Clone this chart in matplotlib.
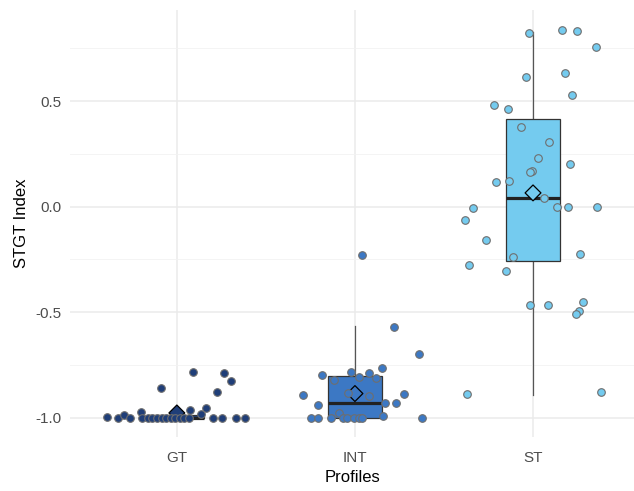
import numpy as np
import matplotlib.pyplot as plt

plt.rcParams['font.family'] = ['Liberation Sans', 'DejaVu Sans']

# Data
profiles = ["GT", "INT", "ST"]
colors = ["#1F3E78", "#3C78C4", "#74CBEF"]

gt_jit = [-0.393, -0.331, -0.298, -0.264, -0.202, -0.197, -0.163, -0.140, -0.112, -0.084,
          -0.062, -0.034, -0.011, 0.017, 0.039, 0.067, -0.090, 0.073, 0.090, 0.135,
          0.163, 0.225, 0.264, 0.303, 0.202, 0.253, 0.331, 0.382]
gt_val = [-0.995, -1.0, -0.99, -1.0, -0.975, -1.0, -1.0, -1.0, -1.0, -1.0,
          -1.0, -1.0, -1.0, -1.0, -1.0, -1.0, -0.86, -0.965, -0.785, -0.985,
          -0.955, -0.88, -0.79, -0.825, -1.0, -1.0, -1.0, -1.0]

int_jit = [0.038, 0.219, 0.360, 0.152, -0.022, -0.185, 0.022, 0.079, 0.118, -0.118,
           -0.039, -0.292, 0.079, 0.275, -0.208, 0.171, 0.230, -0.087, -0.247, -0.208,
           -0.135, -0.067, -0.045, -0.006, 0.022, 0.042, 0.157, 0.376]
int_val = [-0.227, -0.569, -0.697, -0.763, -0.782, -0.796, -0.806, -0.787, -0.810, -0.820,
           -0.882, -0.891, -0.900, -0.886, -0.938, -0.929, -0.929, -0.976, -1.0, -1.0,
           -1.0, -1.0, -1.0, -1.0, -1.0, -1.0, -0.991, -1.0]

st_jit = [-0.022, 0.163, 0.247, 0.354, -0.039, 0.180, 0.219, -0.219, -0.140, -0.067,
          0.090, 0.028, 0.208, -0.006, -0.017, -0.208, -0.135, 0.062, -0.337, 0.135,
          0.197, 0.360, -0.382, -0.264, -0.112, 0.264, -0.360, -0.152, -0.017, 0.084,
          0.281, 0.258, 0.242, -0.371, 0.382]
st_val = [0.825, 0.839, 0.833, 0.757, 0.616, 0.634, 0.531, 0.483, 0.462, 0.376,
          0.308, 0.232, 0.200, 0.171, 0.164, 0.117, 0.122, 0.041, -0.005, 0.0,
          0.0, 0.0, -0.062, -0.156, -0.239, -0.223, -0.275, -0.307, -0.466, -0.466,
          -0.450, -0.496, -0.507, -0.889, -0.878]

# box summary (q1, median, q3, whisker low, whisker high, mean)
q1 = [-1.0, -1.0, -0.259]
med = [-1.0, -0.929, 0.039]
q3 = [-0.99, -0.804, 0.417]
wlo = [-1.0, -1.0, -0.891]
whi = [-0.99, -0.567, 0.826]
means = [-0.978, -0.886, 0.065]

jits = [gt_jit, int_jit, st_jit]
vals = [gt_val, int_val, st_val]

fig = plt.figure(figsize=(6.34, 4.91), dpi=100)
ax = fig.add_axes([70/634, 54/491, 564/634, 427/491])

stats = []
for i in range(3):
    stats.append(dict(q1=q1[i], med=med[i], q3=q3[i], whislo=wlo[i], whishi=whi[i],
                      mean=means[i], fliers=[]))
pos = np.arange(1, 4)
bp = ax.bxp(stats, positions=pos, widths=0.3, patch_artist=True, showcaps=False,
            showfliers=False, showmeans=False,
            boxprops=dict(edgecolor="#333333", linewidth=0.9),
            whiskerprops=dict(color="#555555", linewidth=0.9),
            medianprops=dict(color="#222222", linewidth=2.3, solid_capstyle="butt"))
for patch, c in zip(bp["boxes"], colors):
    patch.set_facecolor(c)
    patch.set_zorder(2)
for w in bp["whiskers"]:
    w.set_zorder(1.5)
for m in bp["medians"]:
    m.set_zorder(2.1)

# means as diamonds
ax.scatter(pos, means, marker="D", s=65, c=colors, edgecolors="black", linewidths=0.9, zorder=3)

# jittered points
for i in range(3):
    x = pos[i] + np.array(jits[i])
    ax.scatter(x, vals[i], s=30, c=colors[i], edgecolors="#6E6E6E", linewidths=0.8, zorder=4)

ax.set_xlim(0.4, 3.567)
ax.set_ylim(-1.092, 0.932)
ax.set_xticks(pos)
ax.set_xticklabels(profiles)
ax.set_yticks([-1.0, -0.5, 0.0, 0.5])
ax.set_yticklabels(["-1.0", "-0.5", "0.0", "0.5"])
ax.set_yticks([-0.75, -0.25, 0.25, 0.75], minor=True)
ax.grid(True, which="major", color="#EBEBEB", linewidth=1.1, zorder=0)
ax.grid(True, which="minor", axis="y", color="#F2F2F2", linewidth=0.6, zorder=0)
ax.set_axisbelow(True)
for s in ax.spines.values():
    s.set_visible(False)
ax.tick_params(which="both", length=0, labelsize=11, labelcolor="#4D4D4D")
ax.tick_params(axis="x", pad=10)
ax.tick_params(axis="y", pad=6)
ax.set_xlabel("Profiles", fontsize=12, color="black", labelpad=4)
ax.set_ylabel("STGT Index", fontsize=12, color="black", labelpad=5)

fig.savefig("out.png", dpi=100)
